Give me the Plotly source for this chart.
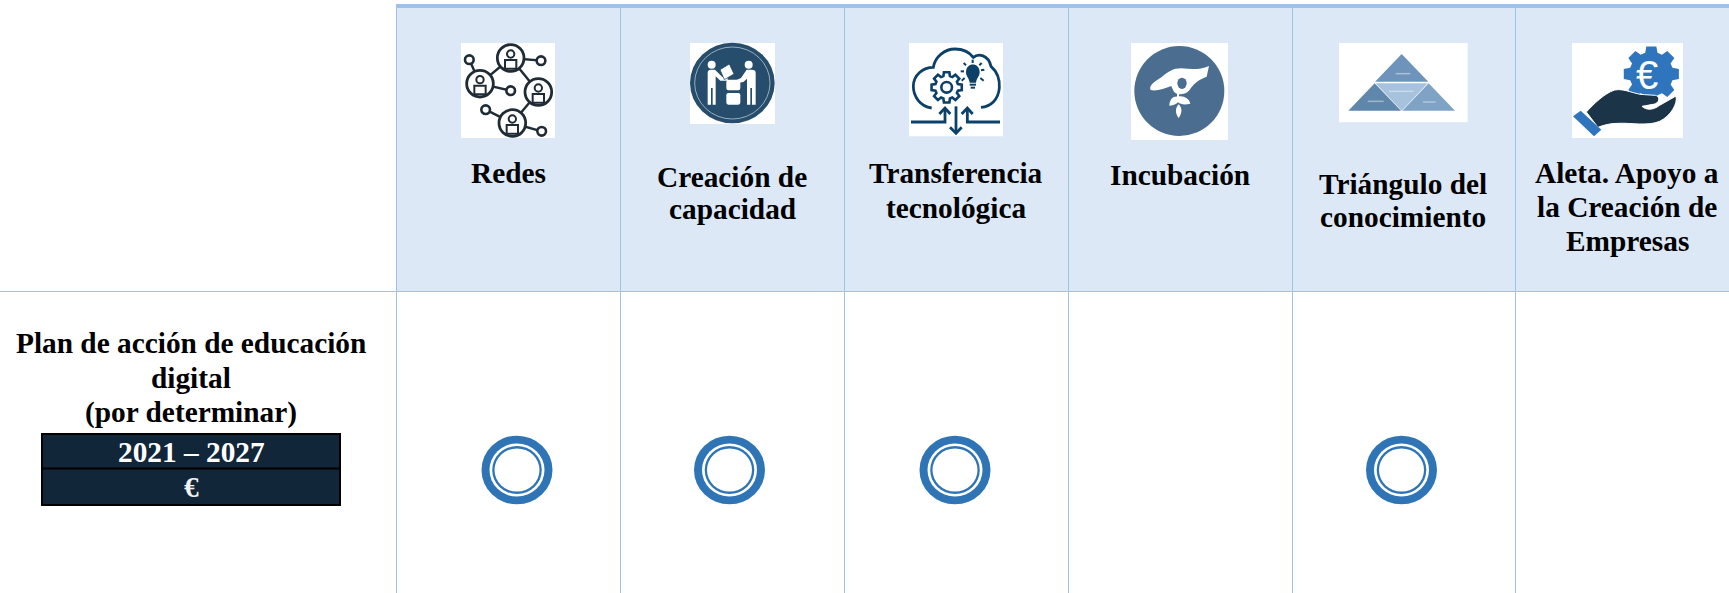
import math
import plotly.graph_objects as go

# ---- content ----
column_labels = [["Redes"], ["Creación de", "capacidad"], ["Transferencia", "tecnológica"],
                 ["Incubación"], ["Triángulo del", "conocimiento"],
                 ["Aleta. Apoyo a", "la Creación de", "Empresas"]]
row_label = ["Plan de acción de educación", "digital", "(por determinar)"]
row_period = "2021 – 2027"
row_budget = "€"
row_marks = [1, 1, 1, 0, 1, 0]

# ---- page geometry (pixels of the 1729x593 page) ----
W, H = 1729, 593
EDGES = [396.5, 620.5, 844.5, 1068.5, 1292.5, 1515.5]
LABEL_X = [508, 732, 956, 1180, 1403, 1627]
LABEL_Y = [[173], [177, 209], [173, 208], [175], [184, 217], [173, 207, 241]]
ROW_Y = [343, 378, 412]
MARK_X = [517, 729.5, 955, 1180, 1401.5, 1622]
MARK_Y = 470
HEAD_BOTTOM = 291.5
LINE = "#9DC3E6"
HEAD = "#DCE8F5"
BLUE = "#2F75B5"
SERIF = "Liberation Serif"

shapes = []
def rect(x0, y0, x1, y1, fill, line=None, lw=0):
    shapes.append(dict(type="rect", x0=x0, y0=y0, x1=x1, y1=y1, fillcolor=fill,
                       line=dict(color=line or fill, width=lw), layer="above"))
def seg(x0, y0, x1, y1, color, lw):
    shapes.append(dict(type="line", x0=x0, y0=y0, x1=x1, y1=y1,
                       line=dict(color=color, width=lw), layer="above"))
def ell(cx, cy, rx, ry, fill=None, line=None, lw=0):
    shapes.append(dict(type="circle", x0=cx-rx, y0=cy-ry, x1=cx+rx, y1=cy+ry,
                       fillcolor=fill or "rgba(0,0,0,0)",
                       line=dict(color=line or "rgba(0,0,0,0)", width=lw), layer="above"))
def path(d, fill=None, line=None, lw=0):
    shapes.append(dict(type="path", path=d, fillcolor=fill or "rgba(0,0,0,0)",
                       line=dict(color=line or "rgba(0,0,0,0)", width=lw), layer="above"))

class Icon:
    """Local coordinates are 3x pixels from the icon's own origin."""
    def __init__(self, ox, oy):
        self.ox, self.oy = ox, oy
    def X(self, v): return self.ox + v / 3
    def Y(self, v): return self.oy + v / 3
    def rect(self, a, b, c, d, fill, **k): rect(self.X(a), self.Y(b), self.X(c), self.Y(d), fill, **k)
    def seg(self, a, b, c, d, color, lw): seg(self.X(a), self.Y(b), self.X(c), self.Y(d), color, lw)
    def ell(self, cx, cy, rx, ry=None, **k): ell(self.X(cx), self.Y(cy), rx/3, (ry or rx)/3, **k)
    def path(self, d, **k):
        out = []
        for tok in d.split():
            if tok.isalpha():
                out.append(tok)
            else:
                a, b = tok.split(",")
                out.append(f"{self.X(float(a)):.2f},{self.Y(float(b)):.2f}")
        path(" ".join(out), **k)
    def gear(self, cx, cy, ro, ri, teeth, **k):
        pts, step = [], 2 * math.pi / teeth
        for i in range(teeth):
            a = i * step - math.pi / 2
            for da, r in ((-.30, ri), (-.19, ro), (.19, ro), (.30, ri)):
                pts.append((cx + r * math.cos(a + da * step * 1.2), cy + r * math.sin(a + da * step * 1.2)))
        d = "M " + " L ".join(f"{x:.1f},{y:.1f}" for x, y in pts) + " Z"
        self.path(d, **k)

# ---- table frame ----
rect(396.5, 6, W, HEAD_BOTTOM, HEAD)
rect(396, 4, W, 8, LINE)
seg(0, HEAD_BOTTOM, W, HEAD_BOTTOM, LINE, 1)
for e in EDGES:
    seg(e, 6, e, H, LINE, 1)

# ---- icon 1: network ----
ic = Icon(455, 38)
INK = "#1F2C35"
ic.rect(18, 15, 300, 300, "#FFFFFF")
big = [(167, 60), (75, 137), (250, 162), (172, 255)]
small = [(43, 65), (258, 68), (167, 158), (92, 215), (260, 280)]
for a, b in [(small[0], big[1]), (big[0], big[1]), (big[0], big[2]), (big[2], big[3]),
             (big[0], small[1]), (big[1], small[2]), (small[3], big[3]), (big[3], small[4])]:
    ic.seg(a[0], a[1], b[0], b[1], INK, 2.4)
for cx, cy in big:
    ic.ell(cx, cy, 40, fill="#FFFFFF", line=INK, lw=2.8)
    ic.ell(cx, cy - 12, 11, fill="#FFFFFF", line=INK, lw=2)
    ic.rect(cx - 17, cy + 6, cx + 17, cy + 32, "#FFFFFF", line=INK, lw=2)
for cx, cy in small:
    ic.ell(cx, cy, 13, fill="#FFFFFF", line=INK, lw=2.6)

# ---- icon 2: capacity ----
ic = Icon(685, 38)
NAVY = "#264D6B"
ic.rect(15, 15, 270, 258, "#FFFFFF")
ic.ell(142, 135, 127, 121, fill=NAVY)
ic.ell(142, 135, 113, 108, line="#C9D6E0", lw=0.7)
ic.ell(80, 80, 12, fill="#FFFFFF")
ic.ell(191, 80, 12, fill="#FFFFFF")
ic.path("M 68,105 Q 68,95 78,95 L 90,95 L 112,117 L 128,117 L 128,128 L 106,128 L 92,115 L 92,200 L 83,200 L 83,150 L 78,150 L 78,200 L 68,200 Z", fill="#FFFFFF")
ic.path("M 200,95 L 185,95 L 168,120 L 155,126 L 158,135 L 175,132 L 186,122 L 186,200 L 196,200 L 196,150 L 201,150 L 201,200 L 212,200 L 212,105 Q 212,95 200,95 Z", fill="#FFFFFF")
ic.path("M 105,95 L 133,78 L 147,108 L 118,125 Z", fill="#FFFFFF", line=NAVY, lw=0.8)
ic.path("M 130,125 L 160,125 Q 166,125 166,132 L 166,150 Q 166,157 160,157 L 130,157 Q 124,157 124,150 L 124,132 Q 124,125 130,125 Z", fill="#FFFFFF")
ic.path("M 130,165 L 160,165 Q 166,165 166,172 L 166,193 Q 166,200 160,200 L 130,200 Q 124,200 124,193 L 124,172 Q 124,165 130,165 Z", fill="#FFFFFF")

# ---- icon 3: technology transfer ----
ic = Icon(905, 38)
TEAL = "#0B4068"
ic.rect(12, 15, 294, 295, "#FFFFFF")
ic.path("M 80,210 C 45,205 25,175 25,145 C 25,110 55,88 85,88 C 90,55 120,33 150,33 C 175,33 195,45 205,58 C 220,45 250,50 258,85 C 275,100 285,125 283,150 C 280,185 258,205 228,208",
        line=TEAL, lw=2.8)
ic.gear(125, 148, 46, 35, 8, fill="#FFFFFF", line=TEAL, lw=2.6)
ic.ell(125, 148, 16, fill="#FFFFFF", line=TEAL, lw=2.6)
ic.path("M 183,103 C 183,72 224,72 224,103 C 224,115 215,120 213,134 L 194,134 C 192,120 183,115 183,103 Z", fill=TEAL)
ic.rect(194, 137, 213, 143, TEAL)
ic.rect(197, 146, 210, 152, TEAL)
for x0, y0, x1, y1 in [(203, 65, 203, 75), (176, 75, 183, 82), (230, 75, 223, 82), (167, 100, 177, 100),
                       (228, 97, 238, 95), (170, 128, 179, 120), (236, 128, 226, 120)]:
    ic.seg(x0, y0, x1, y1, TEAL, 2)
ic.path("M 18,252 L 120,252 L 120,212", line=TEAL, lw=2.8)
ic.path("M 103,228 L 120,210 L 136,228", line=TEAL, lw=2.8)
ic.path("M 285,252 L 187,252 L 187,212", line=TEAL, lw=2.8)
ic.path("M 170,228 L 187,210 L 203,228", line=TEAL, lw=2.8)
ic.seg(153, 205, 153, 285, TEAL, 2.8)
ic.path("M 135,268 L 153,286 L 170,268", line=TEAL, lw=2.8)

# ---- icon 4: incubation ----
ic = Icon(1128, 40)
STEEL = "#4A6D90"
ic.rect(9, 9, 300, 300, "#FFFFFF")
ic.ell(154, 153, 135, fill=STEEL)
ic.path("M 68,150 C 60,136 85,122 100,112 C 120,95 135,85 160,85 C 190,88 215,90 243,78 L 236,110 C 215,118 200,128 188,145 C 178,165 150,168 138,155 C 134,148 130,138 130,138 C 110,145 85,155 68,150 Z", fill="#FFFFFF")
ic.ell(162, 130, 14, 17, fill=STEEL)
ic.seg(150, 155, 150, 175, "#FFFFFF", 2)
ic.path("M 150,170 C 135,168 125,178 124,197 C 137,197 145,192 150,187 C 158,194 172,195 187,191 C 184,175 165,166 150,170 Z", fill="#FFFFFF")
ic.path("M 152,193 C 141,205 141,220 152,234 C 162,220 164,205 152,193 Z", fill="#FFFFFF")

# ---- icon 5: knowledge triangle ----
ic = Icon(1335, 40)
ic.rect(12, 9, 398, 247, "#FFFFFF")
ic.path("M 200,42 L 120,125 L 280,125 Z", fill="#6F94BB")
ic.path("M 122,130 L 278,130 L 200,212 Z", fill="#A6C2DC")
ic.path("M 119,130 L 40,212 L 198,212 Z", fill="#5F86AB")
ic.path("M 281,130 L 360,212 L 202,212 Z", fill="#7FA3C4")
for x0, x1, y in [(182, 226, 101), (162, 236, 154), (98, 146, 184), (264, 302, 186)]:
    ic.seg(x0, y, x1, y, "rgba(255,255,255,0.4)", 1.5)

# ---- icon 6: business support ----
ic = Icon(1568, 38)
ic.rect(12, 15, 345, 300, "#FFFFFF")
ic.gear(250, 108, 84, 66, 8, fill="#2F75BD")
ic.path("M 55,222 C 75,200 110,165 140,156 C 170,150 200,170 230,170 L 262,172 C 278,175 275,197 255,199 L 222,205 C 235,217 255,217 275,202 L 324,174 C 330,197 308,234 275,250 C 240,265 190,254 150,256 C 125,256 105,262 90,268 Z",
        fill="#1B3448", line="#FFFFFF", lw=1)
ic.path("M 15,235 L 38,218 L 100,275 L 78,295 Z", fill="#2F75BD")

# ---- row label box ----
rect(42, 434, 340, 505, "#12263A", line="#000000", lw=2)
seg(42, 468.5, 340, 468.5, "#000000", 2)

# ---- marks ----
for x, flag in zip(MARK_X, row_marks):
    if flag:
        ell(x, MARK_Y, 35.5, 34.3, fill=BLUE)
        ell(x, MARK_Y, 27.5, 26.6, fill="#FFFFFF")
        ell(x, MARK_Y, 24.8, 24, fill=BLUE)
        ell(x, MARK_Y, 22.5, 21.6, fill="#FFFFFF")

# ---- text ----
annotations = []
FS = 29.33
def label(x, y, text, color="#000000", size=FS, family=SERIF):
    annotations.append(dict(x=x, y=y, xref="x", yref="y", text=text, showarrow=False,
                            xanchor="center", yanchor="middle", align="center",
                            font=dict(family=family, size=size, color=color)))
for x, ys, lines in zip(LABEL_X, LABEL_Y, column_labels):
    for y, t in zip(ys, lines):
        label(x, y, f"<b>{t}</b>")
for y, t in zip(ROW_Y, row_label):
    label(191, y, f"<b>{t}</b>")
label(191, 452, f"<b>{row_period}</b>", color="#FFFFFF")
label(191, 487, f"<b>{row_budget}</b>", color="#F2F2F2")
label(ic.X(238), ic.Y(110), "€", color="#FFFFFF", size=40, family="Liberation Sans")

fig = go.Figure()
fig.update_layout(
    width=W, height=H, margin=dict(l=0, r=0, t=0, b=0),
    paper_bgcolor="#FFFFFF", plot_bgcolor="#FFFFFF", showlegend=False,
    xaxis=dict(range=[0, W], visible=False, fixedrange=True),
    yaxis=dict(range=[H, 0], visible=False, fixedrange=True),
    shapes=shapes, annotations=annotations,
)
fig.write_html("out.html", config=dict(displayModeBar=False),
               post_script="document.body.style.margin='0';document.documentElement.style.overflow='hidden';")
